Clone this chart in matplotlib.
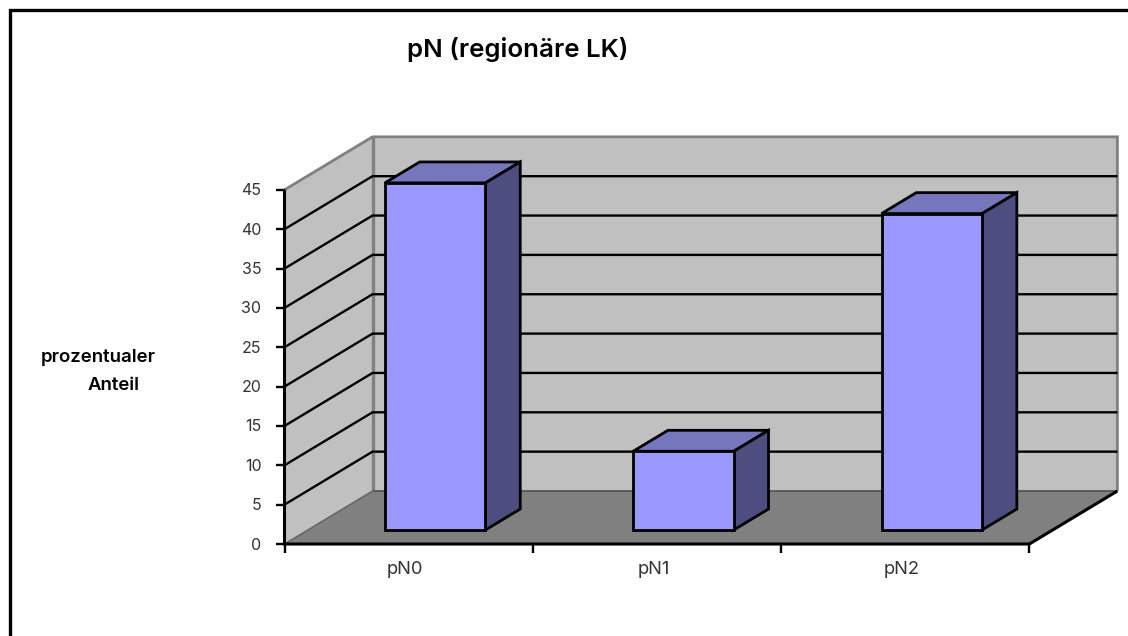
import matplotlib
matplotlib.use('Agg')
import matplotlib.pyplot as plt
from matplotlib.patches import Polygon

plt.rcParams['font.family'] = ['Inter', 'Liberation Sans', 'DejaVu Sans']

categories = ['pN0', 'pN1', 'pN2']
values = [44.1, 10.0, 40.2]
y_ticks = [0, 5, 10, 15, 20, 25, 30, 35, 40, 45]

# chart box in image pixels
X0, Y0 = 284.5, 544.0
CAT_W = 248.3
UNIT = 7.87
DX, DY = 88.0, 53.0
BAR_W = 0.405
BAR_POS = 0.513
D_FRONT, D_BACK = 0.265, 0.66

WALL = '#c0c0c0'
FLOOR = '#808080'
EDGE = '#808080'
FRONT = '#9999ff'
TOP = '#7676bc'
SIDE = '#4d4d80'
LW = 2.0


def pt(cat, val, depth=0.0):
    return X0 + cat * CAT_W + depth * DX, Y0 - val * UNIT - depth * DY


def face(ax, corners, color, edge='none', z=1, lw=LW):
    ax.add_patch(Polygon(corners, closed=True, facecolor=color, edgecolor=edge,
                         linewidth=lw, joinstyle='miter', zorder=z))


def seg(ax, pts, color='black', lw=LW, z=3):
    xs, ys = zip(*pts)
    ax.plot(xs, ys, color=color, lw=lw, zorder=z, solid_capstyle='butt',
            solid_joinstyle='miter')


def main():
    fig = plt.figure(figsize=(11.28, 6.36), dpi=100, facecolor='white')
    ax = fig.add_axes([0, 0, 1, 1])
    ax.set_xlim(0, 1128)
    ax.set_ylim(636, 0)
    ax.axis('off')

    n = len(categories)
    top = y_ticks[-1]

    # outer frame, open to the right and bottom
    seg(ax, [(9.8, 636), (9.8, 10.3), (1128, 10.3)], lw=2.4, z=1)

    # walls and floor
    face(ax, [pt(0, 0, 1), pt(n, 0, 1), pt(n, top + 0, 1), pt(0, top, 1)], WALL)
    face(ax, [pt(0, 0, 0), pt(0, 0, 1), pt(0, top, 1), pt(0, top, 0)], WALL)
    face(ax, [pt(0, 0, 0), pt(n, 0, 0), pt(n, 0, 1), pt(0, 0, 1)], FLOOR)

    seg(ax, [pt(0, top, 0), pt(0, top, 1), pt(n, top, 1), pt(n, 0, 1)], color=EDGE, lw=2.0, z=2)
    seg(ax, [pt(0, 0, 1), pt(0, top, 1)], color=EDGE, lw=2.4, z=2)
    seg(ax, [pt(0, 0, 0), pt(0, 0, 1)], color='#606060', lw=1.0, z=2)
    seg(ax, [pt(0, 0, 1), pt(n, 0, 1)], color='#505050', lw=1.2, z=2)

    # gridlines run along the side wall and back wall
    for v in y_ticks[1:-1]:
        seg(ax, [pt(0, v, 0), pt(0, v, 1), pt(n, v, 1)], lw=1.7, z=3)

    # bars
    for i, v in enumerate(values):
        a = i + BAR_POS - BAR_W / 2
        b = i + BAR_POS + BAR_W / 2
        face(ax, [pt(a, v, D_FRONT), pt(b, v, D_FRONT), pt(b, v, D_BACK), pt(a, v, D_BACK)],
             TOP, 'black', z=4)
        face(ax, [pt(b, 0, D_FRONT), pt(b, 0, D_BACK), pt(b, v, D_BACK), pt(b, v, D_FRONT)],
             SIDE, 'black', z=4)
        face(ax, [pt(a, 0, D_FRONT), pt(b, 0, D_FRONT), pt(b, v, D_FRONT), pt(a, v, D_FRONT)],
             FRONT, 'black', z=5)

    # front axes
    seg(ax, [pt(0, top, 0), pt(0, 0, 0), pt(n, 0, 0), pt(n, 0, 1)], lw=2.2, z=6)
    for v in y_ticks:
        x, y = pt(0, v, 0)
        seg(ax, [(x - 9, y), (x, y)], lw=1.7, z=6)
        ax.text(x - 23, y + 1, str(v), ha='right', va='center', fontsize=11.5, color='#333333')
    for i in range(n + 1):
        x, y = pt(i, 0, 0)
        seg(ax, [(x, y), (x, y + 9)], lw=1.7, z=6)
    for i, name in enumerate(categories):
        x, y = pt(i + 0.5, 0, 0)
        ax.text(x - 3.5, y + 26, name, ha='center', va='center', fontsize=13.2, color='#333333')

    ax.text(518, 49, 'pN (regionäre LK)', ha='center', va='center', fontsize=18.6,
            fontweight='semibold', color='black')
    ax.text(41, 357, 'prozentualer', ha='left', va='center', fontsize=13.4,
            fontweight='semibold', color='black')
    ax.text(88, 385, 'Anteil', ha='left', va='center', fontsize=13.4,
            fontweight='semibold', color='black')

    fig.savefig('out.png', dpi=100, facecolor='white')
    plt.close(fig)


main()
